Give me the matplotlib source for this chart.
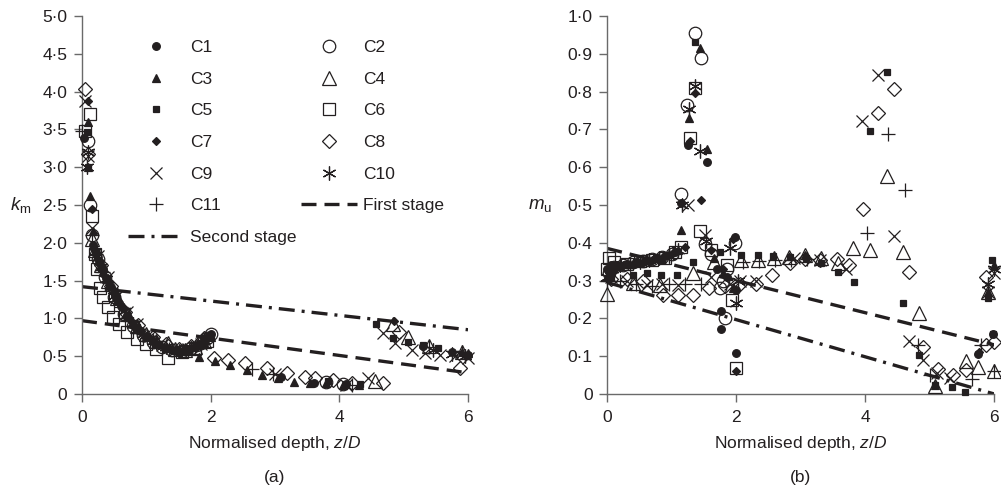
import matplotlib
matplotlib.use('Agg')
import matplotlib.pyplot as plt

plt.rcParams['font.family'] = ['Liberation Sans', 'DejaVu Sans']
plt.rcParams['mathtext.fontset'] = 'custom'
plt.rcParams['mathtext.rm'] = 'Liberation Sans'
plt.rcParams['mathtext.it'] = 'Liberation Sans:italic'

# ---------------- Panel (a): k_m vs z/D ----------------
za1 = [0.03, 0.17, 0.22, 0.27, 0.32, 0.38, 0.45, 0.52, 0.6, 0.7, 0.8, 0.9, 1.0, 1.1, 1.2, 1.3, 1.4, 1.5, 1.6, 1.7, 1.8, 1.9, 2.0, 3.1, 3.6, 4.1, 5.3, 5.75, 6.0]
ka1 = [3.38, 1.97, 1.86, 1.76, 1.66, 1.54, 1.42, 1.30, 1.16, 1.02, 0.91, 0.83, 0.76, 0.70, 0.65, 0.61, 0.58, 0.57, 0.58, 0.61, 0.65, 0.71, 0.79, 0.22, 0.15, 0.13, 0.64, 0.56, 0.52]
za2 = [0.1, 0.12, 0.15, 0.25, 0.35, 0.5, 0.65, 0.8, 0.95, 1.1, 1.25, 1.4, 1.55, 1.7, 1.85, 1.95, 2.0, 3.8, 4.05]
ka2 = [3.35, 2.5, 2.1, 1.78, 1.55, 1.28, 1.06, 0.90, 0.78, 0.69, 0.62, 0.58, 0.57, 0.61, 0.68, 0.74, 0.80, 0.16, 0.13]
za3 = [0.1, 0.1, 0.12, 0.17, 0.24, 0.33, 0.43, 0.55, 0.7, 0.85, 1.0, 1.15, 1.3, 1.45, 1.6, 1.75, 1.82, 1.9, 2.0, 2.07, 2.3, 2.56, 2.8, 3.05, 3.3, 3.55, 3.8, 4.05, 4.3, 5.9, 6.0]
ka3 = [3.6, 3.0, 2.62, 2.15, 1.82, 1.62, 1.45, 1.25, 1.02, 0.86, 0.76, 0.67, 0.62, 0.58, 0.57, 0.62, 0.49, 0.69, 0.76, 0.43, 0.38, 0.32, 0.25, 0.21, 0.16, 0.14, 0.14, 0.12, 0.12, 0.56, 0.54]
za4 = [0.15, 0.2, 0.3, 0.4, 0.55, 0.7, 0.85, 1.0, 1.15, 1.34, 1.45, 1.6, 1.75, 1.9, 4.56, 4.84, 5.07, 5.4, 5.9]
ka4 = [2.05, 1.9, 1.7, 1.5, 1.27, 1.06, 0.9, 0.79, 0.70, 0.68, 0.59, 0.58, 0.62, 0.7, 0.17, 0.92, 0.75, 0.64, 0.56]
za5 = [0.08, 0.1, 0.2, 0.3, 0.42, 0.55, 0.7, 0.85, 1.0, 1.2, 1.4, 1.6, 1.8, 2.0, 3.82, 4.32, 4.57, 4.83, 5.07, 5.3, 5.53, 5.98]
ka5 = [3.47, 3.0, 1.88, 1.66, 1.47, 1.27, 1.05, 0.89, 0.77, 0.65, 0.58, 0.58, 0.64, 0.77, 0.17, 0.13, 0.93, 0.74, 0.69, 0.65, 0.61, 0.5]
za6 = [0.04, 0.12, 0.15, 0.2, 0.24, 0.28, 0.33, 0.4, 0.48, 0.58, 0.7, 0.85, 1.0, 1.15, 1.34, 1.55, 1.75, 1.95]
ka6 = [3.48, 3.7, 2.36, 1.85, 1.65, 1.40, 1.28, 1.15, 1.02, 0.92, 0.82, 0.73, 0.66, 0.60, 0.47, 0.55, 0.60, 0.70]
za7 = [0.1, 0.15, 0.22, 0.3, 0.4, 0.5, 0.62, 0.75, 0.9, 1.05, 1.2, 1.35, 1.5, 1.65, 1.8, 1.95, 4.85]
ka7 = [3.87, 2.45, 1.88, 1.7, 1.5, 1.33, 1.14, 0.98, 0.84, 0.74, 0.66, 0.61, 0.58, 0.59, 0.66, 0.75, 0.96]
za8 = [0.05, 0.1, 0.3, 0.45, 0.67, 0.87, 1.1, 1.3, 1.5, 1.7, 1.9, 2.05, 2.27, 2.53, 2.87, 3.18, 3.47, 3.62, 3.9, 4.2, 4.68, 4.92, 5.88]
ka8 = [4.03, 3.18, 1.70, 1.43, 1.09, 0.91, 0.75, 0.66, 0.59, 0.63, 0.74, 0.47, 0.45, 0.41, 0.34, 0.28, 0.23, 0.21, 0.18, 0.14, 0.14, 0.82, 0.34]
za9 = [0.05, 0.1, 0.15, 0.25, 0.4, 0.55, 0.7, 0.85, 1.05, 1.25, 1.45, 1.65, 1.85, 3.0, 4.1, 4.45, 4.68, 4.87, 5.13, 5.33, 5.56, 5.8, 6.0]
ka9 = [3.88, 3.15, 2.2, 1.82, 1.55, 1.3, 1.08, 0.92, 0.77, 0.65, 0.58, 0.59, 0.66, 0.27, 0.12, 0.21, 0.81, 0.68, 0.58, 0.54, 0.52, 0.5, 0.48]
za10 = [0.08, 0.1, 0.2, 0.3, 0.38, 0.5, 0.65, 0.8, 0.95, 1.1, 1.3, 1.5, 1.7, 1.9, 5.45, 5.75, 5.95]
ka10 = [3.0, 3.2, 1.88, 1.68, 1.52, 1.3, 1.1, 0.93, 0.8, 0.7, 0.62, 0.57, 0.61, 0.71, 0.58, 0.53, 0.5]
za11 = [0.0, 0.15, 0.22, 0.32, 0.45, 0.6, 0.75, 0.95, 1.15, 1.35, 1.55, 1.75, 1.95, 2.64, 2.97, 4.2, 5.4, 5.9]
ka11 = [3.48, 2.1, 1.85, 1.62, 1.4, 1.15, 0.98, 0.8, 0.69, 0.6, 0.57, 0.62, 0.73, 0.33, 0.27, 0.12, 0.62, 0.55]

za_line = [0, 6]
ka_first = [0.97, 0.28]
ka_second = [1.42, 0.85]

# ---------------- Panel (b): m_u vs z/D ----------------
zb1 = [0.0, 0.05, 0.15, 0.3, 0.45, 0.6, 0.75, 0.9, 1.05, 1.15, 1.25, 1.55, 1.7, 1.77, 1.77, 1.85, 1.98, 2.0, 2.0, 5.75, 5.98]
mb1 = [0.33, 0.34, 0.34, 0.345, 0.35, 0.355, 0.36, 0.365, 0.375, 0.505, 0.659, 0.615, 0.33, 0.22, 0.172, 0.31, 0.415, 0.275, 0.108, 0.107, 0.16]
zb2 = [0.02, 0.1, 0.25, 0.4, 0.55, 0.7, 0.85, 1.0, 1.15, 1.23, 1.36, 1.46, 1.51, 1.6, 1.75, 1.8, 1.83, 1.85, 1.98]
mb2 = [0.32, 0.335, 0.34, 0.348, 0.352, 0.356, 0.362, 0.37, 0.53, 0.765, 0.955, 0.89, 0.396, 0.37, 0.28, 0.30, 0.2, 0.33, 0.4]
zb3 = [0.0, 0.08, 0.2, 0.35, 0.5, 0.65, 0.8, 0.95, 1.1, 1.15, 1.26, 1.44, 1.55, 1.65, 1.8, 1.95, 3.07, 5.08, 5.9, 6.0]
mb3 = [0.31, 0.33, 0.34, 0.345, 0.35, 0.355, 0.36, 0.37, 0.38, 0.435, 0.729, 0.915, 0.648, 0.36, 0.32, 0.28, 0.368, 0.025, 0.27, 0.34]
zb4 = [0.0, 0.4, 0.82, 1.33, 1.65, 2.08, 2.34, 2.58, 2.82, 3.06, 3.32, 3.58, 3.81, 4.08, 4.33, 4.58, 4.84, 5.08, 5.56, 5.75, 5.9, 6.0]
mb4 = [0.265, 0.293, 0.288, 0.32, 0.35, 0.354, 0.354, 0.36, 0.362, 0.368, 0.36, 0.346, 0.385, 0.381, 0.577, 0.376, 0.215, 0.02, 0.087, 0.072, 0.27, 0.062]
zb5 = [0.05, 0.4, 0.61, 0.83, 1.08, 1.33, 1.36, 1.75, 2.08, 2.33, 2.57, 2.83, 3.08, 3.32, 3.57, 3.82, 4.07, 4.33, 4.58, 4.83, 5.08, 5.34, 5.55, 5.91, 5.97, 5.98]
mb5 = [0.31, 0.315, 0.319, 0.315, 0.315, 0.35, 0.93, 0.375, 0.368, 0.368, 0.365, 0.363, 0.359, 0.346, 0.324, 0.297, 0.696, 0.853, 0.24, 0.103, 0.024, 0.019, 0.006, 0.253, 0.355, 0.16]
zb6 = [0.0, 0.02, 0.1, 0.3, 0.5, 0.7, 0.9, 1.05, 1.15, 1.28, 1.36, 1.44, 1.6, 1.85, 1.94, 1.99]
mb6 = [0.33, 0.36, 0.35, 0.345, 0.352, 0.355, 0.36, 0.375, 0.39, 0.677, 0.81, 0.43, 0.38, 0.34, 0.25, 0.068]
zb7 = [0.03, 0.12, 0.25, 0.4, 0.55, 0.7, 0.85, 1.0, 1.2, 1.28, 1.36, 1.45, 1.6, 1.8, 1.95, 2.0, 5.77]
mb7 = [0.32, 0.33, 0.34, 0.345, 0.35, 0.355, 0.36, 0.37, 0.39, 0.668, 0.797, 0.513, 0.38, 0.33, 0.41, 0.06, 0.11]
zb8 = [0.05, 0.3, 0.55, 0.87, 1.1, 1.33, 1.57, 1.82, 2.06, 2.3, 2.55, 2.83, 3.06, 3.3, 3.56, 3.74, 3.97, 4.2, 4.45, 4.68, 4.9, 5.13, 5.36, 5.56, 5.87, 5.87, 6.0]
mb8 = [0.305, 0.305, 0.3, 0.262, 0.262, 0.262, 0.28, 0.285, 0.29, 0.292, 0.316, 0.347, 0.358, 0.355, 0.356, 0.34, 0.49, 0.744, 0.806, 0.324, 0.125, 0.065, 0.05, 0.063, 0.31, 0.13, 0.138]
zb9 = [0.05, 0.3, 0.61, 0.85, 1.1, 1.25, 1.52, 1.6, 1.9, 2.05, 2.3, 2.9, 3.3, 3.7, 3.95, 4.2, 4.44, 4.68, 4.9, 5.11, 5.32, 5.9, 6.0]
mb9 = [0.31, 0.3, 0.288, 0.29, 0.288, 0.5, 0.42, 0.31, 0.29, 0.3, 0.3, 0.36, 0.355, 0.33, 0.722, 0.843, 0.419, 0.14, 0.09, 0.055, 0.043, 0.27, 0.32]
zb10 = [0.0, 0.08, 0.2, 0.35, 0.5, 0.65, 0.8, 0.95, 1.1, 1.16, 1.26, 1.36, 1.44, 1.53, 1.9, 2.0, 2.02, 5.9, 6.0]
mb10 = [0.31, 0.33, 0.34, 0.345, 0.35, 0.355, 0.36, 0.365, 0.38, 0.5, 0.755, 0.815, 0.643, 0.405, 0.385, 0.24, 0.3, 0.29, 0.33]
zb11 = [0.0, 0.2, 0.45, 0.7, 0.95, 1.2, 1.45, 2.1, 2.35, 2.6, 2.85, 3.1, 4.02, 4.35, 4.62, 4.82, 5.0, 5.65, 5.8, 6.0]
mb11 = [0.3, 0.3, 0.29, 0.285, 0.29, 0.29, 0.29, 0.35, 0.352, 0.355, 0.355, 0.358, 0.427, 0.688, 0.541, 0.13, 0.05, 0.04, 0.13, 0.06]

zb_line = [0, 6]
mb_first = [0.385, 0.13]
mb_second = [0.295, 0.0]

series_names = ['C1', 'C2', 'C3', 'C4', 'C5', 'C6', 'C7', 'C8', 'C9', 'C10', 'C11']
a_z = [za1, za2, za3, za4, za5, za6, za7, za8, za9, za10, za11]
a_k = [ka1, ka2, ka3, ka4, ka5, ka6, ka7, ka8, ka9, ka10, ka11]
b_z = [zb1, zb2, zb3, zb4, zb5, zb6, zb7, zb8, zb9, zb10, zb11]
b_m = [mb1, mb2, mb3, mb4, mb5, mb6, mb7, mb8, mb9, mb10, mb11]

a_yticks = [0, 0.5, 1.0, 1.5, 2.0, 2.5, 3.0, 3.5, 4.0, 4.5, 5.0]
b_yticks = [0, 0.1, 0.2, 0.3, 0.4, 0.5, 0.6, 0.7, 0.8, 0.9, 1.0]
x_ticks = [0, 2, 4, 6]

ink = '#231f20'
spine_c = '#6a6a6a'
# marker, size, filled
styles = {
    'C1': ('o', 5.5, True),
    'C2': ('o', 9.0, False),
    'C3': ('^', 6.0, True),
    'C4': ('^', 10.0, False),
    'C5': ('s', 5.0, True),
    'C6': ('s', 9.0, False),
    'C7': ('D', 4.0, True),
    'C8': ('D', 7.0, False),
    'C9': ('x', 9.0, False),
    'C10': ((6, 2, 0), 10.0, False),
    'C11': ('+', 10.0, False),
}

DASH_FIRST = (4.5, 2.4)
DASH_SECOND = (4.8, 2.1, 0.9, 2.1)
LW = 2.4
FS = 12.5

fig = plt.figure(figsize=(10.01, 4.86), dpi=100)
ax1 = fig.add_axes([82 / 1001, 92 / 486, 386 / 1001, 378 / 486])
ax2 = fig.add_axes([607.3 / 1001, 92 / 486, 387 / 1001, 378 / 486])


def fmt(v):
    return '0' if v == 0 else f'{v:.1f}'.replace('.', '\u00b7')


def draw_series(ax, xs, ys):
    handles = []
    for name, x, y in zip(series_names, xs, ys):
        mk, ms, filled = styles[name]
        h, = ax.plot(x, y, linestyle='none', marker=mk, ms=ms,
                     mfc=ink if filled else 'none', mec=ink, mew=0.9,
                     clip_on=False, label=name, zorder=3)
        handles.append(h)
    return handles


def style_axes(ax, yticks, ymax, ylab, ylab_x):
    ax.set_xlim(0, 6)
    ax.set_ylim(0, ymax)
    for s in ['top', 'right']:
        ax.spines[s].set_visible(False)
    for s in ['left', 'bottom']:
        ax.spines[s].set_color(spine_c)
        ax.spines[s].set_linewidth(1.0)
    ax.set_xticks(x_ticks)
    ax.set_xticklabels([str(t) for t in x_ticks])
    ax.set_yticks(yticks)
    ax.set_yticklabels([fmt(t) for t in yticks])
    ax.tick_params(axis='both', direction='out', length=5.5, width=1.0,
                   color=spine_c, labelsize=12.5, labelcolor=ink)
    ax.tick_params(axis='x', pad=6)
    ax.tick_params(axis='y', pad=5)
    ax.text(0.5, -(443 - 394) / 378, 'Normalised depth, $z/D$', transform=ax.transAxes,
            ha='center', va='center', fontsize=FS, color=ink)
    ax.text(ylab_x, 0.5, ylab, transform=ax.transAxes,
            ha='center', va='center', fontsize=FS + 1, color=ink)


# Panel (a)
handles = draw_series(ax1, a_z, a_k)
l1, = ax1.plot(za_line, ka_first, color=ink, lw=LW, dashes=DASH_FIRST, label='First stage', zorder=2)
l2, = ax1.plot(za_line, ka_second, color=ink, lw=LW, dashes=DASH_SECOND, label='Second stage', zorder=2)
style_axes(ax1, a_yticks, 5, '$k_\\mathrm{m}$', -0.16)
ax1.text(0.5, -(477 - 394) / 378, '(a)', transform=ax1.transAxes, ha='center', va='center',
         fontsize=FS, color=ink)

# legend, column-major order
col1 = [handles[0], handles[2], handles[4], handles[6], handles[8], handles[10], l2]
col2 = [handles[1], handles[3], handles[5], handles[7], handles[9], l1]
leg_h = col1 + col2
leg = ax1.legend(handles=leg_h, labels=[h.get_label() for h in leg_h], ncol=2,
                 loc='upper left', bbox_to_anchor=(128 / 1001, 1 - 40 / 486),
                 bbox_transform=fig.transFigure, frameon=False, fontsize=FS,
                 handlelength=3.2, handletextpad=0.35, columnspacing=0.3,
                 labelspacing=0.95, borderpad=0, borderaxespad=0)
for t in leg.get_texts():
    t.set_color(ink)

# Panel (b)
draw_series(ax2, b_z, b_m)
ax2.plot(zb_line, mb_first, color=ink, lw=LW, dashes=DASH_FIRST, zorder=2)
ax2.plot(zb_line, mb_second, color=ink, lw=LW, dashes=DASH_SECOND, zorder=2)
style_axes(ax2, b_yticks, 1.0, '$m_\\mathrm{u}$', -0.175)
ax2.text(0.5, -(477 - 394) / 378, '(b)', transform=ax2.transAxes, ha='center', va='center',
         fontsize=FS, color=ink)

fig.savefig('out.png', dpi=100)
